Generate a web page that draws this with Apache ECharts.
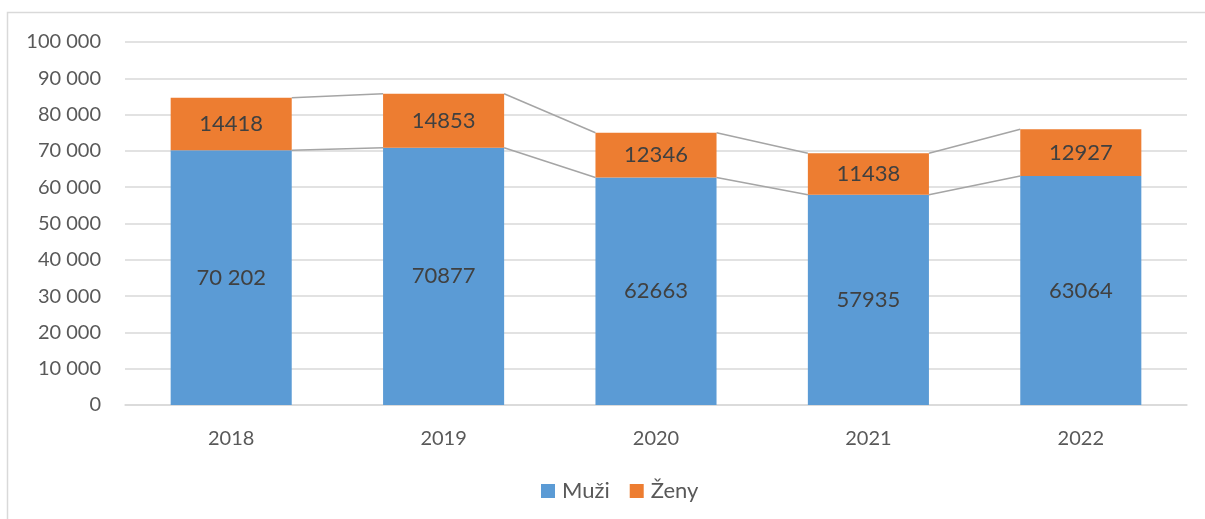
<!DOCTYPE html>
<html>
<head>
<meta charset="utf-8">
<script src="https://cdn.jsdelivr.net/npm/echarts@6/dist/echarts.min.js"></script>
<style>
  html, body { margin: 0; padding: 0; background: #fff; }
  #myChart { width: 1205px; height: 519px; }
</style>
</head>
<body>
<div id="myChart"></div>
<script>
// data
var years = ['2018', '2019', '2020', '2021', '2022'];
var muzi = [70202, 70877, 62663, 57935, 63064];
var zeny = [14418, 14853, 12346, 11438, 12927];
var muziLabels = ['70 202', '70877', '62663', '57935', '63064'];
var zenyLabels = ['14418', '14853', '12346', '11438', '12927'];

var BAR_RATIO = 0.57;

// series lines between neighbouring bars (like Excel)
var linkData = [];
for (var i = 0; i < years.length - 1; i++) {
    linkData.push([i, muzi[i], muzi[i + 1], muzi[i] + zeny[i], muzi[i + 1] + zeny[i + 1]]);
}

var font = 'Lato, "Open Sans", sans-serif';

var option = {
    animation: false,
    textStyle: { fontFamily: font },
    graphic: [{
        type: 'rect',
        shape: { x: 7.5, y: 12.5, width: 1300, height: 600 },
        style: { fill: 'none', stroke: '#d9d9d9', lineWidth: 1.5 },
        silent: true
    }],
    grid: { left: 125, right: 18, top: 42, bottom: 114 },
    legend: {
        data: ['Muži', 'Ženy'],
        bottom: 12,
        left: 536,
        itemWidth: 14,
        itemHeight: 14,
        itemGap: 20,
        icon: 'rect',
        textStyle: { color: '#595959', fontSize: 22, fontFamily: font, padding: [0, 0, 0, 2] }
    },
    xAxis: {
        type: 'category',
        data: years,
        axisLine: { lineStyle: { color: '#d9d9d9', width: 1.5 } },
        axisTick: { show: false },
        axisLabel: { color: '#595959', fontSize: 20, margin: 24, fontFamily: font }
    },
    yAxis: {
        type: 'value',
        min: 0,
        max: 100000,
        interval: 10000,
        splitLine: { lineStyle: { color: '#d9d9d9', width: 1.5 } },
        axisLine: { show: false },
        axisTick: { show: false },
        axisLabel: {
            color: '#595959',
            fontSize: 20,
            margin: 24,
            fontFamily: font,
            formatter: function (v) {
                return String(v).replace(/\B(?=(\d{3})+(?!\d))/g, ' ');
            }
        }
    },
    series: [{
        name: 'Muži',
        type: 'bar',
        stack: 'a',
        data: muzi,
        barWidth: (BAR_RATIO * 100) + '%',
        itemStyle: { color: '#5b9bd5' },
        label: {
            show: true,
            position: 'inside',
            color: '#404040',
            fontSize: 22,
            fontFamily: font,
            formatter: function (p) { return muziLabels[p.dataIndex]; }
        }
    }, {
        name: 'Ženy',
        type: 'bar',
        stack: 'a',
        data: zeny,
        itemStyle: { color: '#ed7d31' },
        label: {
            show: true,
            position: 'inside',
            color: '#404040',
            fontSize: 22,
            fontFamily: font,
            formatter: function (p) { return zenyLabels[p.dataIndex]; }
        }
    }, {
        name: 'links',
        type: 'custom',
        data: linkData,
        encode: { x: 0, y: [1, 2, 3, 4] },
        silent: true,
        z: 1,
        renderItem: function (params, api) {
            var idx = api.value(0);
            var half = api.size([1, 0])[0] * BAR_RATIO / 2;
            var a1 = api.coord([idx, api.value(1)]);
            var b1 = api.coord([idx + 1, api.value(2)]);
            var a2 = api.coord([idx, api.value(3)]);
            var b2 = api.coord([idx + 1, api.value(4)]);
            var st = { stroke: '#a5a5a5', lineWidth: 1.5 };
            return {
                type: 'group',
                children: [{
                    type: 'line',
                    shape: { x1: a1[0] + half, y1: a1[1], x2: b1[0] - half, y2: b1[1] },
                    style: st
                }, {
                    type: 'line',
                    shape: { x1: a2[0] + half, y1: a2[1], x2: b2[0] - half, y2: b2[1] },
                    style: st
                }]
            };
        }
    }]
};

var myChart = echarts.init(document.getElementById('myChart'));
myChart.setOption(option);
</script>
</body>
</html>
